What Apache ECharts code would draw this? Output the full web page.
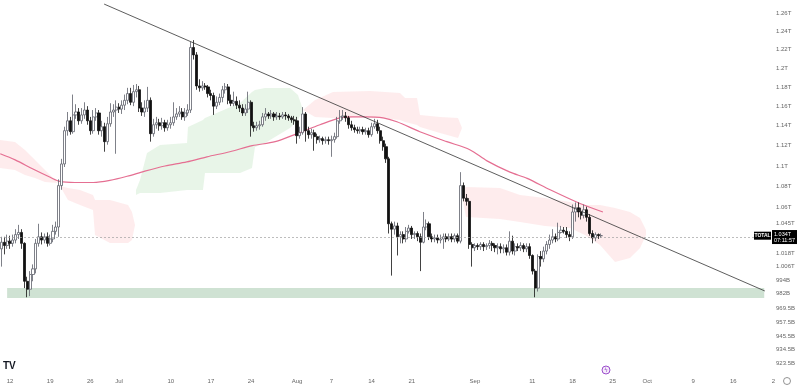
<!DOCTYPE html>
<html><head><meta charset="utf-8">
<script src="https://cdn.jsdelivr.net/npm/echarts@6/dist/echarts.min.js"></script>
<style>html,body{margin:0;padding:0;background:#fff}#c{width:800px;height:387px}</style>
</head><body><div id="c"></div>
<script>
// 12h candles, [open, close, low, high] in billions USD (TOTAL crypto market cap)
const firstBarDay = -1.5;   // days relative to 12 Jun
const barStep = 0.5;
const candles = [
[1022,1028,1006,1033],[1028,1025,1017,1033],[1025,1029,1022,1035],[1029,1027,1022,1034],[1027,1030,1024,1035],
[1030,1035,1027,1040],[1035,1037,1031,1044],[1037,1027,1022,1040],[1027,993,987,1028],[993,986,979,997],
[986,999,980,1002],[999,1004,993,1008],[1004,1027,1000,1031],[1027,1033,1024,1045],[1033,1030,1026,1037],
[1030,1033,1027,1036],[1033,1027,1024,1037],[1027,1031,1025,1035],[1031,1038,1028,1044],[1038,1042,1035,1047],
[1042,1081,1033,1087],[1081,1102,1077,1107],[1102,1135,1099,1139],[1135,1145,1130,1154],[1145,1134,1131,1149],
[1134,1151,1132,1172],[1151,1154,1147,1162],[1154,1145,1141,1158],[1145,1151,1142,1158],[1151,1156,1147,1164],
[1156,1145,1141,1160],[1145,1135,1131,1149],[1135,1149,1132,1156],[1149,1153,1145,1158],[1153,1135,1131,1156],
[1135,1139,1129,1145],[1139,1124,1114,1143],[1124,1142,1121,1149],[1142,1154,1139,1163],[1154,1156,1149,1162],
[1156,1159,1112,1166],[1159,1157,1153,1163],[1157,1161,1152,1166],[1161,1166,1156,1172],[1166,1173,1162,1179],
[1173,1164,1161,1179],[1164,1175,1160,1182],[1175,1177,1169,1183],[1177,1158,1154,1181],[1158,1154,1150,1164],
[1154,1158,1149,1166],[1158,1166,1154,1180],[1166,1132,1124,1169],[1132,1141,1129,1147],[1141,1143,1137,1149],
[1143,1140,1135,1147],[1140,1143,1136,1148],[1143,1138,1134,1146],[1138,1141,1135,1146],[1141,1143,1137,1149],
[1143,1149,1140,1164],[1149,1152,1146,1158],[1152,1154,1149,1160],[1154,1149,1146,1158],[1149,1153,1145,1158],
[1153,1156,1150,1162],[1156,1222,1153,1228],[1222,1214,1209,1230],[1214,1181,1177,1217],[1181,1179,1175,1188],
[1179,1181,1176,1186],[1181,1180,1177,1184],[1180,1173,1169,1182],[1173,1171,1166,1177],[1171,1160,1151,1174],
[1160,1164,1157,1170],[1164,1169,1161,1173],[1169,1177,1164,1181],[1177,1180,1173,1184],[1180,1166,1162,1183],
[1166,1163,1160,1172],[1163,1165,1160,1175],[1165,1161,1157,1170],[1161,1158,1154,1166],[1158,1153,1150,1162],
[1153,1157,1150,1162],[1157,1164,1153,1175],[1164,1140,1129,1166],[1140,1138,1134,1144],[1138,1140,1135,1144],
[1140,1141,1136,1145],[1141,1149,1139,1153],[1149,1152,1145,1158],[1152,1150,1147,1154],[1150,1152,1147,1156],
[1152,1149,1145,1154],[1149,1150,1146,1154],[1150,1149,1146,1153],[1149,1151,1147,1154],[1151,1150,1146,1154],
[1150,1148,1145,1152],[1148,1146,1143,1150],[1146,1145,1141,1150],[1145,1130,1122,1149],[1130,1133,1127,1139],
[1133,1152,1131,1159],[1152,1135,1124,1154],[1135,1131,1127,1139],[1131,1133,1127,1137],[1133,1129,1115,1136],
[1129,1126,1122,1132],[1126,1127,1123,1130],[1127,1125,1121,1129],[1125,1126,1122,1129],[1126,1125,1121,1129],
[1125,1126,1109,1130],[1126,1129,1123,1133],[1129,1145,1127,1149],[1145,1149,1142,1156],[1149,1150,1146,1156],
[1150,1148,1144,1154],[1148,1141,1137,1150],[1141,1138,1135,1145],[1138,1136,1133,1141],[1136,1135,1132,1139],
[1135,1136,1132,1139],[1136,1134,1131,1139],[1134,1135,1131,1138],[1135,1131,1128,1138],[1131,1139,1129,1143],
[1139,1142,1137,1147],[1142,1135,1132,1146],[1135,1125,1122,1139],[1125,1119,1115,1129],[1119,1107,1103,1122],
[1107,1045,1036,1109],[1045,1040,998,1047],[1040,1043,1035,1047],[1043,1033,1016,1046],[1033,1035,1027,1038],
[1035,1031,1027,1038],[1031,1038,1028,1042],[1038,1041,1036,1044],[1041,1035,1031,1043],[1035,1036,1031,1038],
[1036,1033,1029,1038],[1033,1028,1002,1036],[1028,1042,1027,1056],[1042,1045,1039,1049],[1045,1033,1030,1047],
[1033,1031,1028,1036],[1031,1032,1028,1035],[1032,1030,1027,1035],[1030,1031,1027,1035],[1031,1033,1022,1036],
[1033,1031,1028,1036],[1031,1033,1029,1036],[1033,1031,1028,1036],[1031,1034,1028,1036],[1034,1029,1027,1036],
[1029,1081,1027,1094],[1081,1069,1066,1084],[1069,1066,1062,1073],[1066,1026,1022,1069],[1026,1023,1006,1028],
[1023,1025,1020,1027],[1025,1024,1021,1027],[1024,1026,1021,1028],[1026,1024,1020,1028],[1024,1025,1021,1027],
[1025,1027,1022,1030],[1027,1025,1020,1029],[1025,1023,1019,1027],[1023,1024,1017,1027],[1024,1022,1018,1027],
[1022,1023,1018,1026],[1023,1019,1016,1026],[1019,1029,1016,1038],[1029,1020,1017,1034],[1020,1024,1016,1027],
[1024,1023,1020,1027],[1023,1025,1020,1028],[1025,1022,1019,1027],[1022,1024,1019,1027],[1024,1016,1013,1027],
[1016,1002,999,1017],[1002,987,979,1004],[987,1015,984,1017],[1015,1013,1006,1020],[1013,1020,1010,1024],
[1020,1026,1017,1029],[1026,1030,1022,1035],[1030,1033,1027,1040],[1033,1031,1028,1036],[1031,1037,1029,1046],
[1037,1039,1036,1043],[1039,1038,1036,1042],[1038,1035,1032,1042],[1035,1033,1029,1038],[1033,1056,1031,1063],
[1056,1060,1047,1065],[1060,1056,1051,1065],[1056,1053,1049,1060],[1053,1058,1050,1063],[1058,1051,1047,1061],
[1051,1036,1034,1054],[1036,1032,1027,1039],[1032,1035,1029,1037],[1035,1034,1031,1036],[1034,1034,1032,1036]
];

// moving average (pink)
const maDays   = [-1.7,0.9,4.0,7.0,8.7,11.3,14.5,17.4,20.4,23.5,27.0,30.8,34.3,38.3,42.2,46.2,50.0,54.0,57.5,59.6,61.8,65.0,67.4,71.4,76.1,80.1,83.1,87.1,90.1,94.1,99.3,103.3];
const maValues = [1112,1106,1097,1089,1085,1084,1084,1086,1090,1095,1100,1104,1109,1114,1120,1124,1132,1141,1148,1149,1149,1148,1144,1134,1124,1116,1105,1094,1088,1077,1064,1056];

// Ichimoku cloud outline, per segment
const cloudDays  = [-1.74,0.87,2.61,4.36,6.10,8.36,
  8.71,10.10,12.20,14.46,14.81,17.42,20.56,21.25,21.78,
  21.95,22.65,23.87,26.13,30.84,31.01,33.62,33.97,40.07,42.16,42.68,44.43,48.78,50.17,51.05,
  51.05,53.14,56.27,62.72,67.94,68.82,70.91,71.43,74.91,78.05,78.75,
  78.75,79.44,85.37,88.85,93.21,97.56,100.17,102.79,105.40,108.01,109.76,110.80];
const cloudUpper = [1125.7,1123.7,1115.7,1105.9,1096.1,1083.5,
  1080.6,1078.7,1076.8,1072.0,1067.3,1067.3,1062.5,1056.0,1043.8,
  1076.8,1086.4,1112.8,1120.7,1122.7,1138.7,1145.8,1147.9,1163.3,1174.7,1176.8,1178.8,1178.8,1171.6,1156.1,
  1156.1,1166.4,1174.7,1175.7,1173.6,1168.4,1168.4,1150.9,1148.9,1147.9,1137.7,
  1076.8,1079.7,1078.7,1072.0,1069.2,1065.4,1062.5,1062.5,1059.7,1056.0,1050.4,1039.2];
const cloudLower = [1098.0,1096.1,1091.3,1088.3,1084.5,1083.5,
  1080.6,1067.3,1062.5,1057.8,1034.6,1027.3,1027.3,1030.0,1043.8,
  1072.0,1073.9,1073.9,1073.9,1076.8,1076.8,1076.8,1093.2,1093.2,1098.0,1118.7,1122.7,1137.7,1145.8,1156.1,
  1156.1,1148.9,1147.9,1148.9,1145.8,1143.8,1140.8,1138.7,1132.7,1127.7,1137.7,
  1072.0,1051.3,1049.4,1046.6,1042.9,1041.0,1034.6,1025.5,1010.1,1013.7,1022.7,1034.6];
const cloudSeg   = [0,0,0,0,0,0, 1,1,1,1,1,1,1,1,1, 2,2,2,2,2,2,2,2,2,2,2,2,2,2,2, 3,3,3,3,3,3,3,3,3,3,3, 4,4,4,4,4,4,4,4,4,4,4,4];
const segKinds   = ['bear','bear','bull','bear','bear'];

// descending trendline and support zone
const trendDays = [16.4, 131.5];
const trendValues = [1270, 984.5];
const zoneDays = [-0.5, 131.4];
const zoneValues = [987.1, 978.4];

const lastPrice = 1034;
const lastLabel = '1.034T';
const countdown = '07:11:57';
const symbolName = 'TOTAL';

const yTickValues = [1260,1240,1220,1200,1180,1160,1140,1120,1100,1080,1060,1045,1018,1006,994,982,969.5,957.5,945.5,934.5,923.5];
const yTickLabels = ['1.26T','1.24T','1.22T','1.2T','1.18T','1.16T','1.14T','1.12T','1.1T','1.08T','1.06T','1.045T','1.018T','1.006T','994B','982B','969.5B','957.5B','945.5B','934.5B','923.5B'];
const xTickDays = [0,7,14,19,28,35,42,50,56,63,70,81,91,98,105,111,119,126,133];
const xTickLabels = ['12','19','26','Jul','10','17','24','Aug','7','14','21','Sep','11','18','25','Oct','9','16','2'];

const L = Math.log;
function nearest(vals, labels, v){let bi=0,bd=Infinity;vals.forEach((x,i)=>{const d=Math.abs(x-v);if(d<bd){bd=d;bi=i;}});return labels[bi];}
const yLn = yTickValues.map(L);

const cloudColors = {bull:'rgba(76,175,80,0.13)', bear:'rgba(242,54,69,0.095)'};
function cloudSeries(seg){
  const rows = [];
  cloudSeg.forEach((s,i)=>{ if(s===seg) rows.push([cloudDays[i], L(cloudUpper[i]), L(cloudLower[i])]); });
  return {
    type:'custom', z:1, silent:true, clip:true, data: rows,
    encode:{x:0, y:[1,2]},
    renderItem:function(params, api){
      if(params.dataIndex!==0) return;
      const up = rows.map(r=>api.coord([r[0], r[1]]));
      const lo = rows.map(r=>api.coord([r[0], r[2]])).reverse();
      return {type:'polygon', shape:{points: up.concat(lo)}, style:{fill: cloudColors[segKinds[seg]]}};
    }
  };
}

const zoneRows = [[zoneDays[0], L(zoneValues[0])],[zoneDays[1], L(zoneValues[1])]];
const font = 'Liberation Sans';

const chart = echarts.init(document.getElementById('c'), null, {renderer:'canvas'});
chart.setOption({
  animation:false,
  backgroundColor:'#ffffff',
  grid:{left:0, right:25, top:0, bottom:17, containLabel:false},
  xAxis:{
    type:'value', min:-1.742, max:133.275,
    axisLine:{show:false}, axisTick:{show:false}, splitLine:{show:false},
    axisLabel:{customValues:xTickDays, margin:8, fontSize:6, color:'#666', fontFamily:font,
      formatter:v=>nearest(xTickDays, xTickLabels, v)}
  },
  yAxis:{
    type:'value', position:'right', min:L(917.8), max:L(1274.6),
    axisLine:{show:false}, axisTick:{show:false}, splitLine:{show:false},
    axisLabel:{customValues:yLn, margin:1, fontSize:6, color:'#666', fontFamily:font,
      formatter:v=>nearest(yLn, yTickLabels, v)}
  },
  series:[
    {
      type:'custom', z:1, silent:true, data:zoneRows, encode:{x:0,y:1},
      renderItem:function(params, api){
        if(params.dataIndex!==0) return;
        const a = api.coord(zoneRows[0]), b = api.coord(zoneRows[1]);
        return {type:'rect', shape:{x:a[0], y:a[1], width:b[0]-a[0], height:b[1]-a[1]}, style:{fill:'#cfe2d3'}};
      }
    },
    cloudSeries(0), cloudSeries(1), cloudSeries(2), cloudSeries(3), cloudSeries(4),
    {
      type:'line', z:2, silent:true, showSymbol:false, smooth:0.3,
      data: maDays.map((d,i)=>[d, L(maValues[i])]),
      lineStyle:{color:'#e56f92', width:1.2}
    },
    {
      type:'candlestick', z:3, silent:true, barWidth:2.6,
      data: candles.map((c,i)=>[firstBarDay+i*barStep, L(c[0]), L(c[1]), L(c[2]), L(c[3])]),
      itemStyle:{color:'#ffffff', color0:'#111111', borderColor:'#5e616b', borderColor0:'#111111', borderWidth:0.8},
      markLine:{
        silent:true, symbol:'none', animation:false,
        lineStyle:{type:[2,2], color:'#a0a0a0', width:0.7},
        data:[{yAxis:L(lastPrice)}],
        label:{position:'end', distance:-3, formatter:lastLabel+'\n'+countdown,
          backgroundColor:'#000', color:'#fff', fontSize:5.5, lineHeight:6, padding:[1,2,1,2], fontFamily:font}
      },
      markPoint:{
        silent:true, animation:false,
        data:[{coord:[131.1, L(lastPrice)], symbol:'rect', symbolSize:[17,8], itemStyle:{color:'#000'},
          label:{show:true, position:'inside', formatter:symbolName, color:'#fff', fontSize:5, fontWeight:'bold', fontFamily:font}}]
      }
    },
    {
      type:'line', z:4, silent:true, showSymbol:false,
      data: trendDays.map((d,i)=>[d, L(trendValues[i])]),
      lineStyle:{color:'#333333', width:0.8}
    }
  ],
  graphic:[
    {type:'text', left:3, top:361, style:{text:'TV', font:'bold 10px "Liberation Sans"', fill:'#131722'}},
    {type:'circle', shape:{cx:606, cy:370, r:4}, style:{stroke:'#9c4dcc', fill:'#f5ecfa', lineWidth:1}},
    {type:'text', x:606, y:370, style:{text:'ϟ', font:'6px "DejaVu Sans"', fill:'#9c4dcc', align:'center', verticalAlign:'middle'}},
    {type:'circle', shape:{cx:787, cy:381, r:3.5}, style:{stroke:'#777', fill:'#fff', lineWidth:0.8}}
  ]
});
</script>
</body></html>
